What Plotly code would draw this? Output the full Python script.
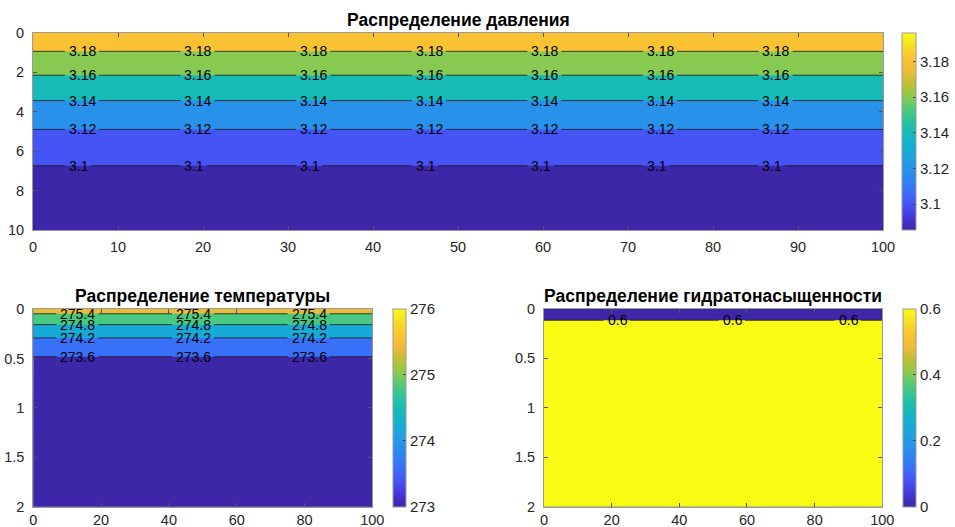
import numpy as np
import plotly.graph_objects as go

# ---------------- data ----------------
x_span = [0, 100]

# pressure vs depth
p_depth = [0, 1, 2, 3, 4, 5, 6, 7, 8, 9, 10]
p_values = [3.196, 3.1788, 3.1623, 3.1462, 3.1318, 3.1186, 3.1076, 3.0973, 3.0920, 3.0880, 3.0855]
p_levels = [3.10, 3.12, 3.14, 3.16, 3.18]
p_level_text = ["3.1", "3.12", "3.14", "3.16", "3.18"]
p_label_x = [4.1, 17.7, 31.3, 44.9, 58.5, 72.1, 85.7]
p_xticks = [0, 10, 20, 30, 40, 50, 60, 70, 80, 90, 100]
p_yticks = [0, 2, 4, 6, 8, 10]
p_cbar_ticks = [3.10, 3.12, 3.14, 3.16, 3.18]
p_cbar_text = ["3.1", "3.12", "3.14", "3.16", "3.18"]

# temperature vs depth
t_depth = [0, 0.05, 0.1, 0.2, 0.3, 0.4, 0.5, 0.75, 1.0, 1.5, 2.0]
t_values = [276.0, 275.38, 275.1, 274.586, 274.168, 273.853, 273.55, 273.25, 273.1, 273.02, 273.0]
t_levels = [273.6, 274.2, 274.8, 275.4]
t_level_text = ["273.6", "274.2", "274.8", "275.4"]
t_label_x = [7.7, 41.8, 75.9]
t_xticks = [0, 20, 40, 60, 80, 100]
t_yticks = [0, 0.5, 1, 1.5, 2]
t_cbar_ticks = [273, 274, 275, 276]
t_cbar_text = ["273", "274", "275", "276"]

# hydrate saturation vs depth
h_depth = [0, 0.05, 0.098, 0.118, 0.25, 0.5, 1.0, 1.5, 2.0]
h_values = [0, 0, 0, 0.6, 0.6, 0.6, 0.6, 0.6, 0.6]
h_levels = [0.6]
h_level_text = ["0.6"]
h_label_x = [18.5, 52.5, 86.8]
h_xticks = [0, 20, 40, 60, 80, 100]
h_yticks = [0, 0.5, 1, 1.5, 2]
h_cbar_ticks = [0, 0.2, 0.4, 0.6]
h_cbar_text = ["0", "0.2", "0.4", "0.6"]

titles = ["Распределение давления", "Распределение температуры", "Распределение гидратонасыщенности"]

# ---------------- style ----------------
W, H = 955, 527
FONT = "Liberation Sans"
TXT = "#262626"

PARULA = [
    (0.000, (62, 38, 168)), (0.063, (69, 53, 214)), (0.125, (71, 80, 244)),
    (0.188, (60, 108, 250)), (0.250, (46, 130, 242)), (0.312, (40, 146, 234)),
    (0.375, (28, 164, 222)), (0.437, (18, 178, 204)), (0.500, (22, 188, 181)),
    (0.562, (45, 196, 152)), (0.625, (90, 202, 114)), (0.687, (148, 201, 72)),
    (0.750, (198, 190, 52)), (0.812, (240, 186, 58)), (0.875, (252, 197, 47)),
    (0.937, (245, 222, 36)), (1.000, (249, 251, 21)),
]


def parula(t):
    t = min(max(t, 0.0), 1.0)
    for (t0, c0), (t1, c1) in zip(PARULA[:-1], PARULA[1:]):
        if t <= t1:
            f = (t - t0) / (t1 - t0) if t1 > t0 else 0
            c = [round(a + (b - a) * f) for a, b in zip(c0, c1)]
            return "rgb(%d,%d,%d)" % tuple(c)
    return "rgb(%d,%d,%d)" % PARULA[-1][1]


PARULA_SCALE = [[t, "rgb(%d,%d,%d)" % c] for t, c in PARULA]


def band_scale(levels, zmin, zmax):
    # MATLAB contourf: band above level L gets colormap colour of L
    n = len(levels)
    bg = parula(0.0)
    cols = [parula((lv - zmin) / (zmax - zmin)) for lv in levels]
    if n == 1:
        return [[0, bg], [1, cols[0]]]
    b = [k / (n - 1) for k in range(n)]
    d = 1e-4
    sc = [[0, bg], [d, cols[0]]]
    for k in range(1, n - 1):
        sc.append([b[k], cols[k - 1]])
        sc.append([b[k], cols[k]])
    sc.append([1 - d, cols[n - 2]])
    sc.append([1, cols[n - 1]])
    return sc


def level_depth(depths, vals, level):
    for i in range(len(vals) - 1):
        a, b = vals[i], vals[i + 1]
        if a != b and (a - level) * (b - level) <= 0:
            return depths[i] + (level - a) / (b - a) * (depths[i + 1] - depths[i])
    return None


# pixel boxes of the three axes: (left, right, top, bottom), colourbar left/thickness, x-label standoff
panels = [
    dict(box=(33, 883, 33, 230), cb=(902, 14), xs=4),
    dict(box=(33.3, 372.3, 309, 506.7), cb=(392.7, 13), xs=0),
    dict(box=(544, 882.3, 308.5, 506.7), cb=(902.7, 13), xs=0),
]

datasets = [
    (p_depth, p_values, p_levels, p_level_text, p_label_x, p_xticks, p_yticks, p_cbar_ticks, p_cbar_text),
    (t_depth, t_values, t_levels, t_level_text, t_label_x, t_xticks, t_yticks, t_cbar_ticks, t_cbar_text),
    (h_depth, h_values, h_levels, h_level_text, h_label_x, h_xticks, h_yticks, h_cbar_ticks, h_cbar_text),
]

fig = go.Figure()
annotations = []
LABEL_SIZE = 14

for i, (pan, ds) in enumerate(zip(panels, datasets)):
    depth, vals, levels, ltext, lx, xt, yt, cbt, cbtxt = ds
    l, r, t, b = pan["box"]
    xa = "x" if i == 0 else "x%d" % (i + 1)
    ya = "y" if i == 0 else "y%d" % (i + 1)
    z = [[v, v] for v in vals]
    zmin, zmax = min(vals), max(vals)

    # continuous colourbar (hidden heatmap under the filled contours)
    fig.add_trace(go.Heatmap(
        x=x_span, y=depth, z=z, zmin=zmin, zmax=zmax, colorscale=PARULA_SCALE,
        xaxis=xa, yaxis=ya, hoverinfo="skip",
        colorbar=dict(
            x=pan["cb"][0] / W, xanchor="left", xpad=0, ypad=0,
            y=1 - (t + b) / 2 / H, yanchor="middle",
            len=b - t, lenmode="pixels", thickness=pan["cb"][1], thicknessmode="pixels",
            outlinecolor="#9a9a9a", outlinewidth=1,
            tickmode="array", tickvals=cbt, ticktext=cbtxt,
            ticks="inside", ticklen=3, tickcolor="#404040",
            tickfont=dict(family=FONT, size=15, color=TXT),
        ),
    ))

    # filled contour bands
    if len(levels) == 1:
        c_start = levels[0] - 1e-4
        c_end = c_start
        c_size = 1
    else:
        c_start, c_end = levels[0], levels[-1]
        c_size = levels[1] - levels[0]
    fig.add_trace(go.Contour(
        x=x_span, y=depth, z=z, autocontour=False,
        contours=dict(start=c_start, end=c_end, size=c_size, coloring="fill", showlines=False),
        colorscale=band_scale(levels, zmin, zmax), showscale=False,
        line=dict(width=0), xaxis=xa, yaxis=ya, hoverinfo="skip",
    ))

    # contour lines with gaps for labels, and labels
    ppu = (r - l) / 100.0
    for lv, txt in zip(levels, ltext):
        d = level_depth(depth, vals, lv)
        wpx = LABEL_SIZE * sum(0.278 if ch == "." else 0.556 for ch in txt)
        xs, ys = [], []
        start = 0.0
        for x0 in lx:
            xs += [start, x0 - 3 / ppu, None]
            ys += [d, d, None]
            start = x0 + (wpx + 4) / ppu
            annotations.append(dict(
                x=x0, y=d, xref=xa, yref=ya, text=txt, showarrow=False,
                xanchor="left", yanchor="middle", borderpad=0,
                font=dict(family=FONT, size=LABEL_SIZE, color="black"),
            ))
        xs += [start, 100]
        ys += [d, d]
        fig.add_trace(go.Scatter(
            x=xs, y=ys, mode="lines", line=dict(color="rgba(25,25,25,0.9)", width=0.9),
            xaxis=xa, yaxis=ya, showlegend=False, hoverinfo="skip",
        ))

    axis_common = dict(
        showline=True, mirror="ticks", linecolor="#9a9a9a", linewidth=1,
        ticks="inside", ticklen=4, tickcolor="#555555", showgrid=False, zeroline=False,
        tickfont=dict(family=FONT, size=14.5, color=TXT), automargin=False,
    )
    xkey = "xaxis" if i == 0 else "xaxis%d" % (i + 1)
    ykey = "yaxis" if i == 0 else "yaxis%d" % (i + 1)
    fig.update_layout(**{
        xkey: dict(axis_common, domain=[l / W, r / W], range=[0, 100], anchor=ya,
                   tickmode="array", tickvals=xt, ticklabelstandoff=pan["xs"]),
        ykey: dict(axis_common, domain=[1 - b / H, 1 - t / H], range=[max(depth), 0], anchor=xa,
                   tickmode="array", tickvals=yt, ticklabelstandoff=5),
    })

    annotations.append(dict(
        x=(l + r) / 2 / W, y=1 - (t - 1) / H, xref="paper", yref="paper",
        text=titles[i], showarrow=False, xanchor="center", yanchor="bottom",
        font=dict(family=FONT, size=17.5, color="black", weight="bold"),
    ))

fig.update_layout(
    width=W, height=H, margin=dict(l=0, r=0, t=0, b=0),
    paper_bgcolor="white", plot_bgcolor="white", showlegend=False,
    annotations=annotations,
)

fig.write_html(
    "out.html",
    config={"displayModeBar": False},
    post_script="document.body.style.margin='0px';document.body.style.overflow='hidden';",
)
